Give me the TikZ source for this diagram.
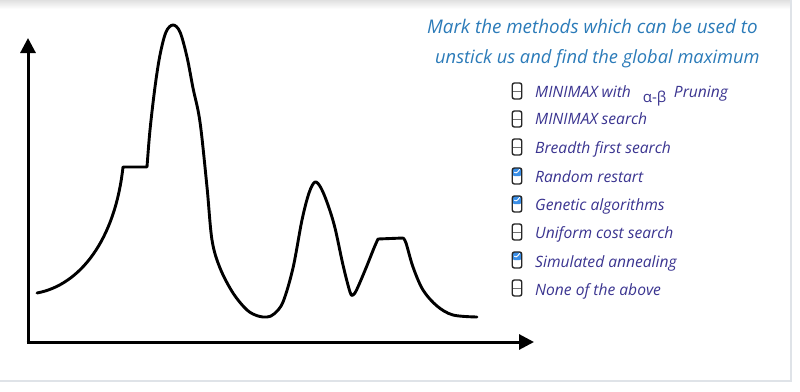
\documentclass[tikz,border=0pt]{standalone}
\usepackage{fontspec}
\setmainfont{Open Sans}
\usetikzlibrary{arrows.meta,calc}
\definecolor{titleblue}{HTML}{2B7BB9}
\definecolor{itemink}{HTML}{3A3490}
\definecolor{boxblue}{HTML}{3A8EE6}
\definecolor{framegray}{HTML}{DFE3E8}
\tikzset{
  axis/.style={line width=3pt,-{Triangle[length=15pt,width=15pt]}},
  curve/.style={line width=2.9pt,line join=round,line cap=round},
  title/.style={anchor=base west,inner sep=0pt,text=titleblue,font=\fontsize{18.8}{20}\selectfont\itshape},
  item/.style={anchor=base west,inner sep=0pt,text=itemink,font=\fontsize{15.6}{17}\selectfont\itshape},
  cb/.style={draw=black!85,line width=1.4pt,rounded corners=2.2pt,minimum width=9.5pt,minimum height=16pt,inner sep=0pt,
    path picture={\draw[black!55,line width=0.7pt] (path picture bounding box.west) -- (path picture bounding box.east);}},
  cbon/.style={draw=black!85,line width=1.4pt,rounded corners=2.2pt,minimum width=9.5pt,minimum height=16pt,inner sep=0pt,
    path picture={\fill[boxblue] (path picture bounding box.north west) rectangle (path picture bounding box.east);
      \draw[white,line width=0.9pt,line cap=round,line join=round]
        ($(path picture bounding box.center)+(-2.6,-3.8)$) -- ($(path picture bounding box.center)+(-0.9,-2.2)$) -- ($(path picture bounding box.center)+(2.6,-6.5)$);}}
}
\begin{document}
\begin{tikzpicture}[x=1pt,y=-1pt]
\useasboundingbox (0,0) rectangle (800,391);
\fill[white] (0,0) rectangle (800,391);
\shade[top color=black!12,bottom color=white] (0,0) rectangle (791,9);
\draw[framegray,line width=1.2pt] (791,0) -- (791,381) -- (0,381);

% axes
\coordinate (O) at (28,342);
\coordinate (ytop) at (28,38);
\coordinate (xend) at (534,342);
\draw[axis] (O) -- (ytop);
\draw[axis] ([xshift=-1.5pt]O) -- (xend);

% landscape curve
\coordinate (s) at (37,293);
\coordinate (p1a) at (123,167);
\coordinate (p1b) at (147,167);
\coordinate (p2a) at (378,239);
\coordinate (p2b) at (403,238);
\draw[curve] (s) .. controls (80,285) and (115,240) .. (p1a) -- (p1b)
  plot[smooth,tension=0.55] coordinates {(147,167) (150,130) (155,87) (160,55) (166,32) (173,25) (180,32) (187,57) (193,88) (200,122) (207,187) (212,240) (220,268) (233,293) (247,310) (258,316) (267,317) (274,314) (283,302) (293,268) (302,220) (309,193) (315,182) (321,188) (328,205) (335,228) (343,265) (350,292) (353,295) (357,289) (366,268) (374,248) (378,239)}
  -- (p2b)
  plot[smooth,tension=0.55] coordinates {(403,238) (406,243) (413,267) (423,290) (437,306) (453,315) (477,317)};

% title
\node[title] (t1) at (427,33) {Mark the methods which can be used to};
\node[title,font=\fontsize{18.3}{20}\selectfont\itshape] (t2) at (435,63) {unstick us and find the global maximum};

% checklist
\node[cb]   (c1) at (517,91)  {};
\node[cb]   (c2) at (517,119) {};
\node[cb]   (c3) at (517,147) {};
\node[cbon] (c4) at (517,176) {};
\node[cbon] (c5) at (517,204) {};
\node[cb]   (c6) at (517,232) {};
\node[cbon] (c7) at (517,260) {};
\node[cb]   (c8) at (517,288) {};

\node[item] (i1) at (535,97)  {MINIMAX with\hspace{12pt}\raisebox{-5.5pt}{\makebox[31pt][l]{\fontsize{15}{16}\selectfont\upshape α-β}}Pruning};
\node[item] (i2) at (535,124) {MINIMAX search};
\node[item] (i3) at (535,153) {Breadth first search};
\node[item] (i4) at (535,182) {Random restart};
\node[item] (i5) at (535,210) {Genetic algorithms};
\node[item] (i6) at (535,238) {Uniform cost search};
\node[item] (i7) at (535,267) {Simulated annealing};
\node[item] (i8) at (535,295) {None of the above};
\end{tikzpicture}
\end{document}
